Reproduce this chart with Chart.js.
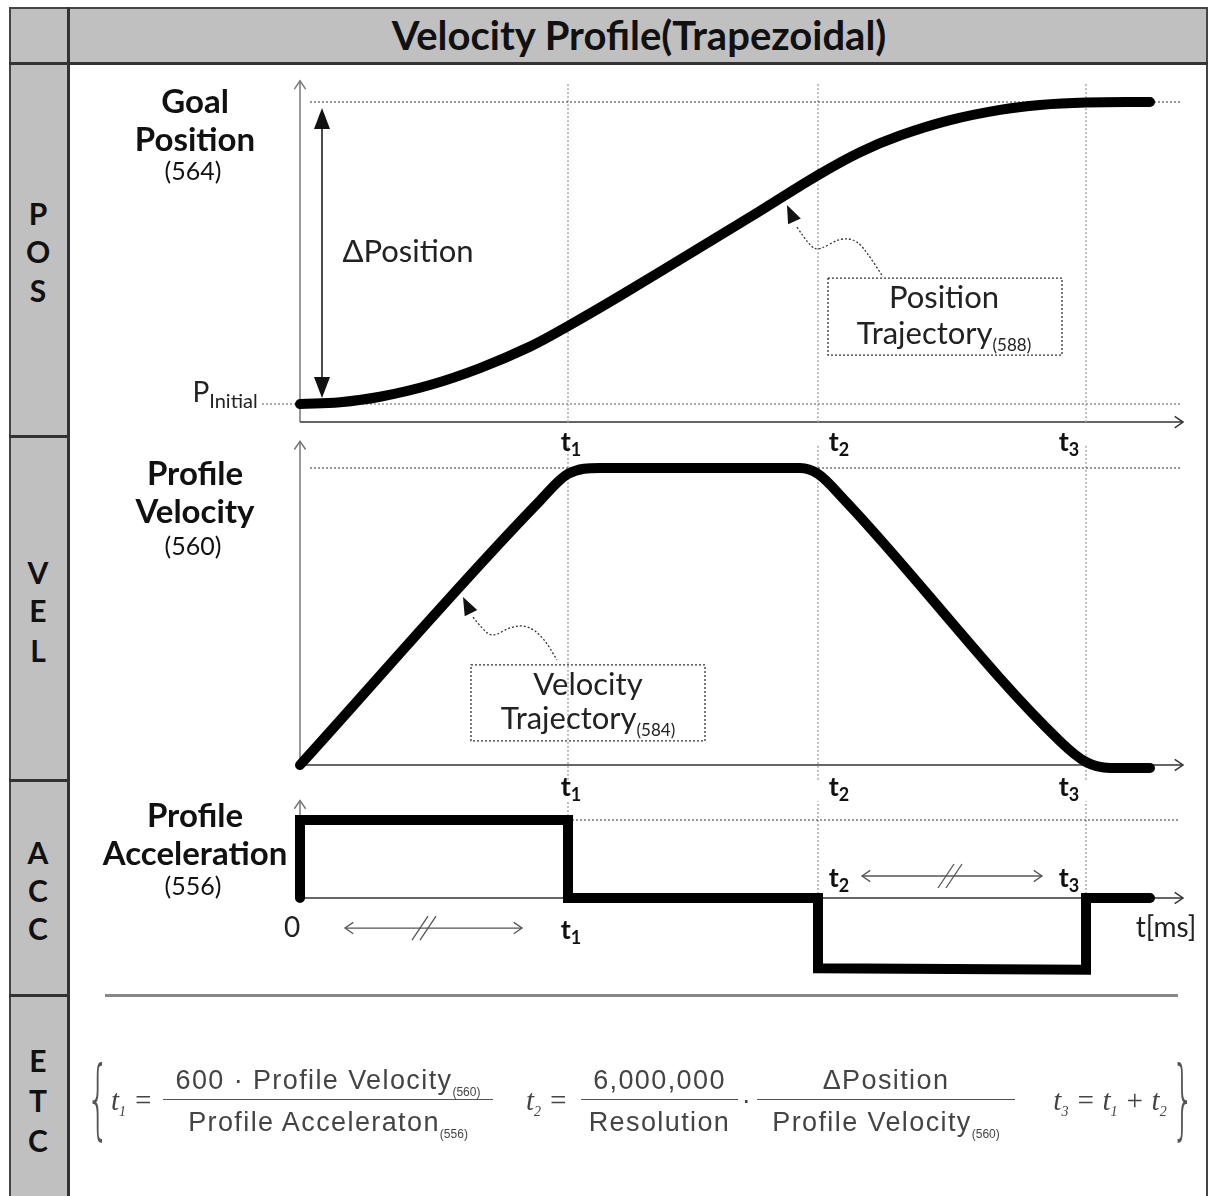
<!DOCTYPE html>
<html>
<head>
<meta charset="utf-8">
<script src="https://cdn.jsdelivr.net/npm/chart.js@4/dist/chart.umd.min.js"></script>
<style>
  body { margin:0; background:#fff; width:1214px; height:1196px; position:relative; overflow:hidden; font-family:Lato, "Noto Sans", sans-serif; color:#111; }
  canvas { position:absolute; left:0; top:0; }
  .box { position:absolute; }
  .c { position:absolute; transform:translate(-50%,-50%); white-space:nowrap; line-height:1; }
  .side { font-weight:bold; font-size:30px; }
  .ttl { font-weight:bold; font-size:33px; }
  .num3 { font-size:25px; }
  .tl { font-weight:bold; font-size:27px; }
  .tl sub { font-size:18px; vertical-align:-5px; }
  .lbl { font-size:31px; color:#222; }
  .lbl sub { font-size:17px; vertical-align:-7px; }
  .fx { font-family:"Liberation Sans", Arial, sans-serif; color:#444; font-size:27px; letter-spacing:1.4px; }
  .fx sub { font-size:12px; vertical-align:-7px; letter-spacing:0; }
  .it { font-family:"Liberation Serif", serif; font-style:italic; font-size:29px; color:#444; }
  .it sub { font-size:14px; vertical-align:-6px; }
  .frac { position:absolute; top:1062px; text-align:center; }
  .frac .n { border-bottom:1.5px solid #555; height:37px; line-height:36px; }
  .frac .d { line-height:44px; }
</style>
</head>
<body>
<!-- table frame -->
<div class="box" style="left:10px;top:8px;width:1198px;height:55px;background:#c0c0c0;"></div>
<div class="box" style="left:10px;top:8px;width:58px;height:1188px;background:#c0c0c0;"></div>
<div class="box" style="left:9px;top:7px;width:1199px;height:2px;background:#444;"></div>
<div class="box" style="left:9px;top:7px;width:2px;height:1189px;background:#444;"></div>
<div class="box" style="left:1206px;top:7px;width:2px;height:1189px;background:#444;"></div>
<div class="box" style="left:67px;top:7px;width:3px;height:1189px;background:#333;"></div>
<div class="box" style="left:9px;top:62px;width:1199px;height:3px;background:#333;"></div>
<div class="box" style="left:9px;top:435px;width:60px;height:3px;background:#333;"></div>
<div class="box" style="left:9px;top:779px;width:60px;height:3px;background:#333;"></div>
<div class="box" style="left:9px;top:994px;width:60px;height:3px;background:#333;"></div>
<div class="box" style="left:105px;top:994px;width:1073px;height:3px;background:#888;"></div>

<div class="c" style="left:639px;top:35px;font-weight:bold;font-size:40px;">Velocity Profile(Trapezoidal)</div>

<div class="c side" style="left:38px;top:213px;">P</div>
<div class="c side" style="left:38px;top:251px;">O</div>
<div class="c side" style="left:38px;top:290px;">S</div>
<div class="c side" style="left:38px;top:572px;">V</div>
<div class="c side" style="left:38px;top:610px;">E</div>
<div class="c side" style="left:38px;top:650px;">L</div>
<div class="c side" style="left:38px;top:852px;">A</div>
<div class="c side" style="left:38px;top:890px;">C</div>
<div class="c side" style="left:38px;top:928px;">C</div>
<div class="c side" style="left:38px;top:1060px;">E</div>
<div class="c side" style="left:38px;top:1100px;">T</div>
<div class="c side" style="left:38px;top:1140px;">C</div>

<canvas id="pos" width="1214" height="1196"></canvas>
<canvas id="vel" width="1214" height="1196"></canvas>
<canvas id="acc" width="1214" height="1196"></canvas>

<div class="c ttl" style="left:195px;top:100px;">Goal</div>
<div class="c ttl" style="left:195px;top:138px;">Position</div>
<div class="c num3" style="left:193px;top:170px;">(564)</div>
<div class="c ttl" style="left:195px;top:472px;">Profile</div>
<div class="c ttl" style="left:195px;top:510px;">Velocity</div>
<div class="c num3" style="left:193px;top:545px;">(560)</div>
<div class="c ttl" style="left:195px;top:814px;">Profile</div>
<div class="c ttl" style="left:195px;top:852px;">Acceleration</div>
<div class="c num3" style="left:193px;top:885px;">(556)</div>

<div class="c lbl" style="left:408px;top:250px;">ΔPosition</div>
<div class="c" style="left:225px;top:393px;font-size:28px;color:#222;">P<sub style="font-size:20px;vertical-align:-6px;">Initial</sub></div>
<div class="c lbl" style="left:944px;top:296px;">Position</div>
<div class="c lbl" style="left:944px;top:335px;">Trajectory<sub>(588)</sub></div>
<div class="c lbl" style="left:588px;top:683px;">Velocity</div>
<div class="c lbl" style="left:588px;top:720px;">Trajectory<sub>(584)</sub></div>
<div class="c" style="left:292px;top:926px;font-size:28px;color:#222;">0</div>
<div class="c" style="left:1166px;top:926px;font-size:28px;color:#222;">t[ms]</div>

<!-- ETC formula -->
<div class="c" style="left:98px;top:1098px;font-family:'DejaVu Sans';font-weight:200;font-size:60px;color:#555;transform:translate(-50%,-50%) scale(0.6,1.45);">{</div>
<div class="c it" style="left:132px;top:1102px;">t<sub>1</sub> =</div>
<div class="frac fx" style="left:163px;width:330px;">
  <div class="n">600 · Profile Velocity<sub>(560)</sub></div>
  <div class="d">Profile Acceleraton<sub>(556)</sub></div>
</div>
<div class="c it" style="left:547px;top:1102px;">t<sub>2</sub> =</div>
<div class="frac fx" style="left:581px;width:157px;">
  <div class="n">6,000,000</div>
  <div class="d">Resolution</div>
</div>
<div class="c fx" style="left:747px;top:1100px;">·</div>
<div class="frac fx" style="left:757px;width:258px;">
  <div class="n">ΔPosition</div>
  <div class="d">Profile Velocity<sub>(560)</sub></div>
</div>
<div class="c it" style="left:1110px;top:1102px;">t<sub>3</sub> = t<sub>1</sub> + t<sub>2</sub></div>
<div class="c" style="left:1183px;top:1098px;font-family:'DejaVu Sans';font-weight:200;font-size:60px;color:#555;transform:translate(-50%,-50%) scale(0.6,1.45);">}</div>

<script>
// time marks (ms units along the t axis)
const timeMarks = [268, 518, 786];
const timeNames = ['1', '2', '3'];
const timeMax = 883;

// position trajectory (0 = P_Initial, 100 = Goal Position)
const posTime  = [0, 40, 80, 130, 180, 230, 268, 320, 400, 460, 518, 560, 600, 650, 700, 740, 786, 850];
const posValue = [0, 0.6, 2.4, 6.3, 11.9, 19.0, 25.8, 35.8, 51.8, 63.9, 75.8, 83.4, 88.9, 94.0, 97.4, 99.0, 99.8, 100];
const goalPosition = 100;
const initialPosition = 0;

// velocity trajectory (100 = Profile Velocity)
const velTime  = [0, 240, 268, 300, 500, 518, 545, 760, 786, 810, 850];
const velValue = [0, 89, 98, 100, 100, 98, 89, 8, 1, -1, -1];
const profileVelocity = 100;

// acceleration (100 = Profile Acceleration)
const accTime  = [0, 0, 268, 268, 518, 518, 786, 786, 850];
const accValue = [0, 100, 100, 0, 0, -90, -92, 0, 0];
const profileAcc = 100;

const W = 1214, H = 1196, PX0 = 300, PX1 = 1183;

function pts(xs, ys) { return xs.map((x, i) => ({x: x, y: ys[i]})); }

function line(ctx, x1, y1, x2, y2) { ctx.beginPath(); ctx.moveTo(x1, y1); ctx.lineTo(x2, y2); ctx.stroke(); }

function openHead(ctx, x, y, ang, s) {
  ctx.beginPath();
  ctx.moveTo(x - s * Math.cos(ang - 0.6), y - s * Math.sin(ang - 0.6));
  ctx.lineTo(x, y);
  ctx.lineTo(x - s * Math.cos(ang + 0.6), y - s * Math.sin(ang + 0.6));
  ctx.stroke();
}

function fillHead(ctx, x, y, ang, len, half) {
  const bx = x - len * Math.cos(ang), by = y - len * Math.sin(ang);
  ctx.beginPath();
  ctx.moveTo(x, y);
  ctx.lineTo(bx + half * Math.sin(ang), by - half * Math.cos(ang));
  ctx.lineTo(bx - half * Math.sin(ang), by + half * Math.cos(ang));
  ctx.closePath();
  ctx.fill();
}

function smooth(ctx, p) {
  ctx.beginPath();
  ctx.moveTo(p[0][0], p[0][1]);
  for (let i = 1; i < p.length - 1; i++) {
    ctx.quadraticCurveTo(p[i][0], p[i][1], (p[i][0] + p[i + 1][0]) / 2, (p[i][1] + p[i + 1][1]) / 2);
  }
  ctx.lineTo(p[p.length - 1][0], p[p.length - 1][1]);
  ctx.stroke();
}

// dotted callout: curvy dotted line ending in a filled arrow head
function callout(ctx, X, Y, tip, path, rect) {
  ctx.strokeStyle = '#333'; ctx.fillStyle = '#111'; ctx.lineWidth = 1.3;
  ctx.setLineDash([2, 2]);
  smooth(ctx, path.map(q => [X(q[0]), Y(q[1])]));
  ctx.strokeRect(X(rect[0]), Y(rect[3]), X(rect[1]) - X(rect[0]), Y(rect[2]) - Y(rect[3]));
  ctx.setLineDash([]);
  const tx = X(tip[0]), ty = Y(tip[1]), bx = X(path[0][0]), by = Y(path[0][1]);
  fillHead(ctx, tx, ty, Math.atan2(ty - by, tx - bx), 18, 7);
}

function overlay(axisAt, extra) {
  return {
    id: 'overlay',
    beforeDatasetsDraw(chart) {
      const ctx = chart.ctx, x = chart.scales.x, y = chart.scales.y;
      const ax = x.getPixelForValue(0), ay = y.getPixelForValue(axisAt);
      const top = y.getPixelForValue(y.max), right = x.getPixelForValue(x.max);
      ctx.save();
      ctx.lineWidth = 1.5;
      ctx.strokeStyle = '#777';
      line(ctx, ax, ay, ax, top);
      openHead(ctx, ax, top, -Math.PI / 2, 10);
      ctx.strokeStyle = '#333';
      line(ctx, ax, ay, right, ay);
      openHead(ctx, right, ay, 0, 10);
      ctx.restore();
    },
    afterDatasetsDraw(chart) {
      if (!extra) return;
      const ctx = chart.ctx, x = chart.scales.x, y = chart.scales.y;
      ctx.save();
      extra(ctx, v => x.getPixelForValue(v), v => y.getPixelForValue(v));
      ctx.restore();
    }
  };
}

function curve(data, smoothMode) {
  return { data: data, borderColor: '#000', borderWidth: 10, borderCapStyle: 'round', borderJoinStyle: 'round',
           cubicInterpolationMode: smoothMode, tension: 0.4, pointRadius: 0, clip: false };
}
function dotted(data, color, width) {
  return { data: data, borderColor: color, borderWidth: width, borderDash: [2, 2], pointRadius: 0, clip: false, tension: 0 };
}
function tLines(yFrom, yTo) {
  return timeMarks.map(t => dotted([{x: t, y: yFrom}, {x: t, y: yTo}], '#aaa', 1.5));
}

function makeChart(id, datasets, yMin, yMax, y0px, y100px, plugin) {
  const ppu = (y0px - y100px) / 100;
  return new Chart(document.getElementById(id), {
    type: 'line',
    data: { datasets: datasets },
    options: {
      responsive: false, animation: false, devicePixelRatio: 1,
      layout: { padding: { left: PX0, right: W - PX1, top: y100px - (yMax - 100) * ppu, bottom: H - (y0px - yMin * ppu) } },
      plugins: { legend: { display: false }, tooltip: { enabled: false } },
      scales: {
        x: { type: 'linear', min: 0, max: timeMax, display: false },
        y: { min: yMin, max: yMax, display: false }
      }
    },
    plugins: [plugin]
  });
}

const posChart = makeChart('pos', [
  curve(pts(posTime, posValue), 'default'),
  dotted([{x: 10, y: goalPosition}, {x: 880, y: goalPosition}], '#333', 1),
  dotted([{x: -38, y: initialPosition}, {x: 880, y: initialPosition}], '#aaa', 2),
  ...tLines(-6, 106)
], -6, 107, 404, 102, overlay(-6, (ctx, X, Y) => {
  ctx.strokeStyle = '#111'; ctx.fillStyle = '#111'; ctx.lineWidth = 1.5;
  line(ctx, X(22), Y(4), X(22), Y(94));
  fillHead(ctx, X(22), Y(98), -Math.PI / 2, 21, 8);
  fillHead(ctx, X(22), Y(2), Math.PI / 2, 21, 8);
  callout(ctx, X, Y, [487, 65.9],
    [[497, 58.6], [510, 52.0], [520, 51.0], [540, 55.0], [557, 54.3], [570, 48.7], [583, 42.1]],
    [528, 762, 16.2, 41.7]);
}));

const velChart = makeChart('vel', [
  curve(pts(velTime, velValue), 'monotone'),
  dotted([{x: 10, y: profileVelocity}, {x: 880, y: profileVelocity}], '#333', 1),
  ...tLines(-5, 108)
], -5, 109, 765, 468, overlay(0, (ctx, X, Y) => {
  callout(ctx, X, Y, [163, 56.6],
    [[173, 49.8], [183, 45.5], [193, 43.1], [210, 46.5], [227, 47.1], [243, 43.1], [257, 35.4]],
    [171, 405, 8.1, 33.7]);
}));

const accChart = makeChart('acc', [
  Object.assign(curve(pts(accTime, accValue), 'default'), { tension: 0, borderJoinStyle: 'miter' }),
  dotted([{x: timeMarks[0], y: profileAcc}, {x: 880, y: profileAcc}], '#333', 1),
  dotted([{x: timeMarks[0], y: 100}, {x: timeMarks[0], y: 124}], '#aaa', 1.5),
  dotted([{x: timeMarks[1], y: 0}, {x: timeMarks[1], y: 124}], '#aaa', 1.5),
  dotted([{x: timeMarks[2], y: 0}, {x: timeMarks[2], y: 124}], '#aaa', 1.5)
], -100, 125, 898, 820, overlay(0, (ctx, X, Y) => {
  ctx.strokeStyle = '#555'; ctx.lineWidth = 1.3;
  [[45, 222, -38.5, 124], [562, 742, 28.2, 650]].forEach(a => {
    const y = Y(a[2]);
    line(ctx, X(a[0]), y, X(a[1]), y);
    openHead(ctx, X(a[0]), y, Math.PI, 10);
    openHead(ctx, X(a[1]), y, 0, 10);
    const cx = X(a[3]);
    line(ctx, cx - 12, y + 12, cx + 4, y - 12);
    line(ctx, cx - 4, y + 12, cx + 12, y - 12);
  });
}));

// t1 / t2 / t3 labels placed from the time scale
const tOffset = [3, 21, -17];
function tLabel(i, top) {
  const d = document.createElement('div');
  d.className = 'c tl';
  d.style.left = (posChart.scales.x.getPixelForValue(timeMarks[i]) + tOffset[i]) + 'px';
  d.style.top = top + 'px';
  d.innerHTML = 't<sub>' + timeNames[i] + '</sub>';
  document.body.appendChild(d);
}
[0, 1, 2].forEach(i => { tLabel(i, 442); tLabel(i, 787); });
tLabel(0, 930); tLabel(1, 878); tLabel(2, 878);
</script>
</body>
</html>
